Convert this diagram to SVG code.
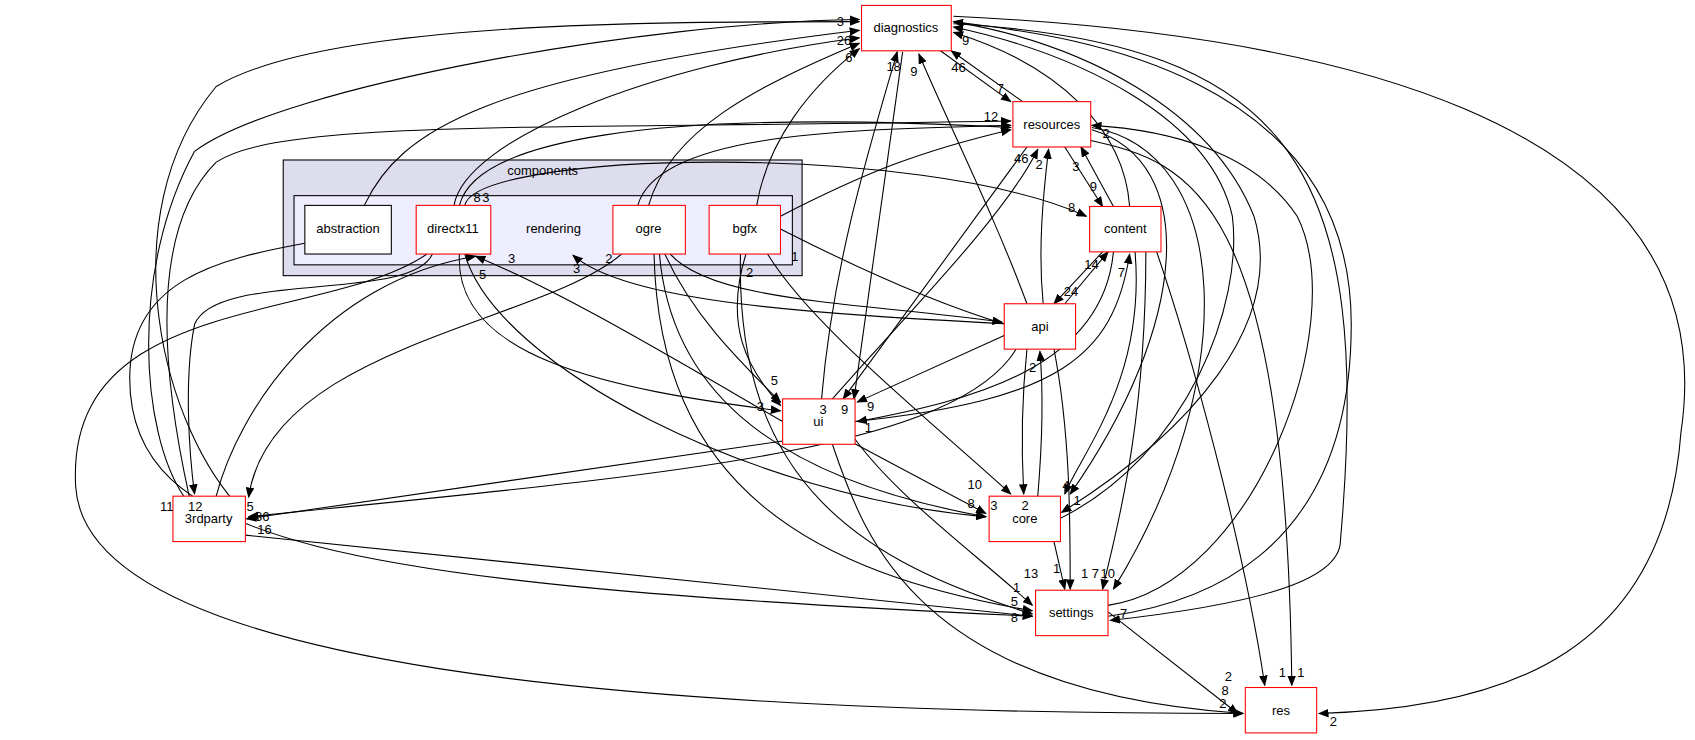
<svg xmlns="http://www.w3.org/2000/svg" width="1695" height="740" viewBox="0 0 1695 740">
<style>
text{font-family:"Liberation Sans",Arial,sans-serif;font-size:12px;fill:#000}
.n{fill:#fff;stroke:#f00;stroke-width:1}
.e path{fill:none;stroke:#000;stroke-width:1;marker-end:url(#a)}
</style>
<defs><marker id="a" markerWidth="10" markerHeight="8" refX="9" refY="4" orient="auto" markerUnits="userSpaceOnUse"><path d="M0,0L10,4L0,8z" fill="#000"/></marker></defs>
<rect width="1695" height="740" fill="#fff"/>
<g transform="scale(1.081)">
<g id="components"><rect x="262" y="148" width="480" height="107" fill="#ddddee" stroke="#000"/><text x="502" y="162" text-anchor="middle">components</text></g>
<g id="rendering"><rect x="272" y="181" width="461" height="64" fill="#eeeeff" stroke="#000"/><text x="512" y="216" text-anchor="middle">rendering</text></g>
<g class="e" id="edges">
<path d="M337,190C370,120 450,70 795,28"/>
<path d="M282,225C200,240 120,260 120,350 C120,500 300,540 955,570"/>
<path d="M420,190C430,130 600,60 795,35"/>
<path d="M425,190C440,130 600,100 935,118"/>
<path d="M430,190C440,140 850,130 1005,200"/>
<path d="M400,235C380,280 200,250 180,300C170,350 175,420 180,457"/>
<path d="M425,235C420,330 560,360 722,380"/>
<path d="M430,235C460,340 700,460 912,478"/>
<path d="M395,235C300,300 60,270 70,450C80,620 600,660 1150,660"/>
<path d="M600,190C620,120 700,80 795,40"/>
<path d="M590,190C610,120 800,120 935,116"/>
<path d="M620,235C660,280 800,280 927,298"/>
<path d="M615,235C640,290 680,330 722,372"/>
<path d="M610,235C620,350 700,440 912,478"/>
<path d="M605,235C610,450 750,530 955,565"/>
<path d="M575,235C500,300 250,320 230,460"/>
<path d="M700,190C710,130 750,80 795,45"/>
<path d="M722,200C800,160 850,140 935,120"/>
<path d="M690,235C670,300 690,340 722,375"/>
<path d="M710,235C750,300 850,380 935,457"/>
<path d="M685,235C680,450 800,520 955,568"/>
<path d="M870,47L935,94"/>
<path d="M946,94L880,47"/>
<path d="M985,136L1020,191"/>
<path d="M1030,191L1000,136"/>
<path d="M1020,233L975,281"/>
<path d="M985,281L1025,233"/>
<path d="M1045,191C1040,120 980,60 882,30"/>
<path d="M1030,233C1020,340 900,370 793,390"/>
<path d="M1050,233C1060,350 1000,420 985,457"/>
<path d="M1060,233C1060,400 1030,500 1020,545"/>
<path d="M1070,233C1100,320 1150,500 1170,634"/>
<path d="M950,281C920,200 880,120 850,50"/>
<path d="M965,281C960,230 965,180 970,138"/>
<path d="M930,310L793,372"/>
<path d="M950,323C945,370 945,420 947,457"/>
<path d="M975,323C990,400 990,480 990,545"/>
<path d="M930,300C830,270 720,210 722,212"/>
<path d="M940,300C750,290 580,280 530,236"/>
<path d="M940,323C880,420 600,440 230,478"/>
<path d="M760,369C770,250 800,150 830,48"/>
<path d="M770,369C830,300 930,200 960,138"/>
<path d="M724,408L228,480"/>
<path d="M790,410L912,475"/>
<path d="M790,405C830,460 900,510 955,560"/>
<path d="M770,411C800,500 850,640 1150,660"/>
<path d="M724,390C620,330 520,270 440,237"/>
<path d="M790,390C980,370 1030,330 1045,235"/>
<path d="M950,136L780,369"/>
<path d="M835,48L790,369"/>
<path d="M960,459C965,400 965,360 962,325"/>
<path d="M980,480C1100,420 1150,280 1140,200 C1120,110 1000,50 882,25"/>
<path d="M975,501L985,545"/>
<path d="M1010,120C1110,150 1100,300 990,457"/>
<path d="M1010,118C1140,140 1150,350 1030,545"/>
<path d="M227,475C150,400 100,200 200,80 C300,20 600,20 795,20"/>
<path d="M170,459C130,400 120,250 180,140 C260,80 600,20 795,18"/>
<path d="M175,459C140,300 150,200 200,150C260,110 500,120 935,112"/>
<path d="M200,459C220,380 300,260 440,237"/>
<path d="M227,495L955,570"/>
<path d="M1025,570C1100,560 1250,520 1250,300 C1250,50 950,30 882,20"/>
<path d="M1025,566L1145,660"/>
<path d="M1025,560C1160,540 1250,300 1200,200C1160,140 1080,120 1010,116"/>
<path d="M882,15C1200,30 1600,100 1555,400C1540,600 1400,655 1220,660"/>
<path d="M882,22C1200,40 1270,160 1240,500C1240,540 1150,560 1027,574"/>
<path d="M1009,130C1100,150 1190,180 1195,634"/>
<path d="M882,20C1000,40 1120,100 1160,200C1190,300 1100,400 982,474"/>
</g>
<g id="diagnostics"><rect class="n" x="797" y="5" width="83" height="42"/><text x="838" y="30" text-anchor="middle">diagnostics</text></g>
<g id="resources"><rect class="n" x="937" y="94" width="72" height="42"/><text x="973" y="119" text-anchor="middle">resources</text></g>
<g id="content"><rect class="n" x="1008" y="191" width="66" height="42"/><text x="1041" y="216" text-anchor="middle">content</text></g>
<g id="api"><rect class="n" x="929" y="281" width="66" height="42"/><text x="962" y="306" text-anchor="middle">api</text></g>
<g id="ui"><rect class="n" x="724" y="369" width="67" height="42"/><text x="757" y="394" text-anchor="middle">ui</text></g>
<g id="core"><rect class="n" x="915" y="459" width="66" height="42"/><text x="948" y="484" text-anchor="middle">core</text></g>
<g id="3rdparty"><rect class="n" x="160" y="459" width="67" height="42"/><text x="193" y="484" text-anchor="middle">3rdparty</text></g>
<g id="settings"><rect class="n" x="958" y="546" width="67" height="42"/><text x="991" y="571" text-anchor="middle">settings</text></g>
<g id="res"><rect class="n" x="1152" y="636" width="66" height="42"/><text x="1185" y="661" text-anchor="middle">res</text></g>
<g id="abstraction"><rect x="282" y="190" width="80" height="45" fill="#fff" stroke="#000"/><text x="322" y="216" text-anchor="middle">abstraction</text></g>
<g id="directx11"><rect class="n" x="385" y="190" width="69" height="45"/><text x="419" y="216" text-anchor="middle">directx11</text></g>
<g id="ogre"><rect class="n" x="567" y="190" width="67" height="45"/><text x="600" y="216" text-anchor="middle">ogre</text></g>
<g id="bgfx"><rect class="n" x="656" y="190" width="66" height="45"/><text x="689" y="216" text-anchor="middle">bgfx</text></g>
<g id="labels">
<text x="774" y="24">3</text><text x="774" y="42">26</text><text x="782" y="57">6</text><text x="820" y="66">18</text><text x="842" y="70">9</text><text x="890" y="42">9</text>
<text x="880" y="67">46</text><text x="922" y="86">7</text><text x="910" y="112">12</text><text x="1020" y="128">2</text><text x="938" y="151">46</text><text x="958" y="156">2</text>
<text x="992" y="158">3</text><text x="1008" y="177">9</text><text x="988" y="196">8</text><text x="1003" y="249">14</text><text x="1034" y="256">7</text><text x="984" y="274">24</text>
<text x="952" y="344">2</text><text x="758" y="383">3</text><text x="778" y="383">9</text><text x="802" y="380">9</text><text x="713" y="356">5</text><text x="700" y="380">3</text><text x="800" y="400">1</text>
<text x="470" y="243">3</text><text x="530" y="253">3</text><text x="560" y="243">2</text><text x="690" y="256">2</text><text x="732" y="241">1</text><text x="438" y="187">8</text><text x="446" y="187">3</text><text x="443" y="258">5</text>
<text x="148" y="473">11</text><text x="174" y="473">12</text><text x="228" y="473">5</text><text x="236" y="482">36</text><text x="238" y="494">16</text>
<text x="916" y="472">3</text><text x="945" y="472">2</text><text x="895" y="452">10</text><text x="895" y="470">8</text><text x="983" y="453">4</text><text x="993" y="467">1</text>
<text x="947" y="535">13</text><text x="974" y="530">1</text><text x="1000" y="535">1</text><text x="1010" y="535">7</text><text x="1018" y="535">10</text><text x="937" y="548">1</text><text x="935" y="561">5</text><text x="935" y="575">8</text><text x="1036" y="572">7</text>
<text x="1133" y="630">2</text><text x="1130" y="643">8</text><text x="1128" y="655">2</text><text x="1183" y="626">1</text><text x="1200" y="626">1</text><text x="1230" y="672">2</text>
</g>
</g>
</svg>
